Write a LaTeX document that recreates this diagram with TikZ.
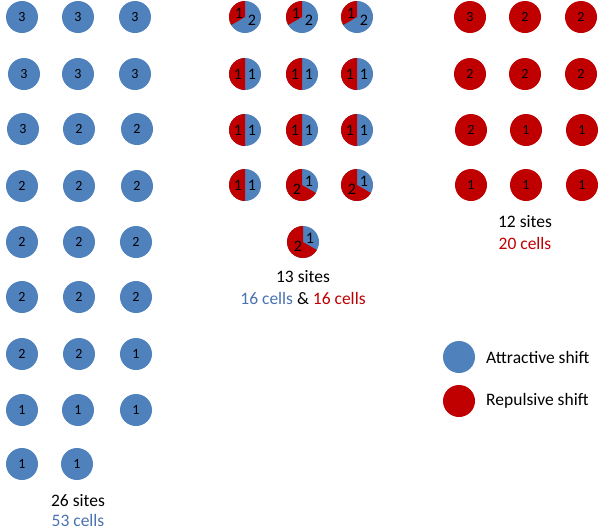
\documentclass[tikz,border=0pt]{standalone}
\usepackage{fontspec}
\setmainfont{Carlito}
\usepackage{xcolor}
\definecolor{attBlue}{HTML}{4F81BD}
\definecolor{repRed}{HTML}{C00000}
\definecolor{cellBlue}{HTML}{4A72B2}
\usepackage{tikz}

\begin{document}
\begin{tikzpicture}[
    x=1pt, y=1pt,
    site/.style={circle, minimum size=32pt, inner sep=0pt, font=\fontsize{14}{14}\selectfont},
    att/.style={site, fill=attBlue},
    rep/.style={site, fill=repRed},
    num/.style={inner sep=0pt, font=\fontsize{16}{16}\selectfont},
    caption/.style={inner sep=0pt, font=\fontsize{17.5}{17.5}\selectfont},
    legend/.style={inner sep=0pt, anchor=west, font=\fontsize{17.5}{17.5}\selectfont},
]
\useasboundingbox (0,0) rectangle (600,-531);

% Attractive sites
\node[att] (A1) at (22,-17) {3};
\node[att] (A2) at (78,-17) {3};
\node[att] (A3) at (135,-17) {3};
\node[att] (A4) at (24,-74) {3};
\node[att] (A5) at (78,-74) {3};
\node[att] (A6) at (135,-74) {3};
\node[att] (A7) at (23,-129) {3};
\node[att] (A8) at (79,-129) {2};
\node[att] (A9) at (137,-129) {2};
\node[att] (A10) at (22,-186) {2};
\node[att] (A11) at (79,-186) {2};
\node[att] (A12) at (137,-186) {2};
\node[att] (A13) at (22,-242) {2};
\node[att] (A14) at (79,-242) {2};
\node[att] (A15) at (136,-242) {2};
\node[att] (A16) at (22,-297) {2};
\node[att] (A17) at (79,-297) {2};
\node[att] (A18) at (136,-297) {2};
\node[att] (A19) at (22,-354) {2};
\node[att] (A20) at (79,-354) {2};
\node[att] (A21) at (136,-354) {1};
\node[att] (A22) at (22,-410) {1};
\node[att] (A23) at (78,-410) {1};
\node[att] (A24) at (136,-410) {1};
\node[att] (A25) at (22,-464) {1};
\node[att] (A26) at (77,-464) {1};
\node[caption] (Asites) at (78,-501) {26 sites};
\node[caption, text=cellBlue] (Acells) at (78,-520) {53 cells};

% Mixed sites
\node[att] (P1) at (245,-17) {};
\node[att] (P2) at (302,-17) {};
\node[att] (P3) at (357,-17) {};
\node[att] (P4) at (245,-74) {};
\node[att] (P5) at (302,-74) {};
\node[att] (P6) at (357,-74) {};
\node[att] (P7) at (245,-130) {};
\node[att] (P8) at (302,-130) {};
\node[att] (P9) at (357,-130) {};
\node[att] (P10) at (245,-185) {};
\node[att] (P11) at (302,-185) {};
\node[att] (P12) at (357,-185) {};
\node[att] (P13) at (303,-242) {};

\fill[repRed] (P1.center) -- ++(90:16) arc[start angle=90, end angle=210, radius=16] -- cycle;
\fill[repRed] (P2.center) -- ++(90:16) arc[start angle=90, end angle=210, radius=16] -- cycle;
\fill[repRed] (P3.center) -- ++(90:16) arc[start angle=90, end angle=210, radius=16] -- cycle;
\fill[repRed] (P4.center) -- ++(90:16) arc[start angle=90, end angle=270, radius=16] -- cycle;
\fill[repRed] (P5.center) -- ++(90:16) arc[start angle=90, end angle=270, radius=16] -- cycle;
\fill[repRed] (P6.center) -- ++(90:16) arc[start angle=90, end angle=270, radius=16] -- cycle;
\fill[repRed] (P7.center) -- ++(90:16) arc[start angle=90, end angle=270, radius=16] -- cycle;
\fill[repRed] (P8.center) -- ++(90:16) arc[start angle=90, end angle=270, radius=16] -- cycle;
\fill[repRed] (P9.center) -- ++(90:16) arc[start angle=90, end angle=270, radius=16] -- cycle;
\fill[repRed] (P10.center) -- ++(90:16) arc[start angle=90, end angle=270, radius=16] -- cycle;
\fill[repRed] (P11.center) -- ++(90:16) arc[start angle=90, end angle=330, radius=16] -- cycle;
\fill[repRed] (P12.center) -- ++(90:16) arc[start angle=90, end angle=330, radius=16] -- cycle;
\fill[repRed] (P13.center) -- ++(90:16) arc[start angle=90, end angle=330, radius=16] -- cycle;

\node[num] (P1r) at ([shift={(-6,4)}]P1.center) {1};
\node[num] (P1b) at ([shift={(7,-3)}]P1.center) {2};
\node[num] (P2r) at ([shift={(-6,4)}]P2.center) {1};
\node[num] (P2b) at ([shift={(7,-3)}]P2.center) {2};
\node[num] (P3r) at ([shift={(-6,4)}]P3.center) {1};
\node[num] (P3b) at ([shift={(7,-3)}]P3.center) {2};
\node[num] (P4r) at ([shift={(-7,0)}]P4.center) {1};
\node[num] (P4b) at ([shift={(7,0)}]P4.center) {1};
\node[num] (P5r) at ([shift={(-7,0)}]P5.center) {1};
\node[num] (P5b) at ([shift={(7,0)}]P5.center) {1};
\node[num] (P6r) at ([shift={(-7,0)}]P6.center) {1};
\node[num] (P6b) at ([shift={(7,0)}]P6.center) {1};
\node[num] (P7r) at ([shift={(-7,0)}]P7.center) {1};
\node[num] (P7b) at ([shift={(7,0)}]P7.center) {1};
\node[num] (P8r) at ([shift={(-7,0)}]P8.center) {1};
\node[num] (P8b) at ([shift={(7,0)}]P8.center) {1};
\node[num] (P9r) at ([shift={(-7,0)}]P9.center) {1};
\node[num] (P9b) at ([shift={(7,0)}]P9.center) {1};
\node[num] (P10r) at ([shift={(-7,0)}]P10.center) {1};
\node[num] (P10b) at ([shift={(7,0)}]P10.center) {1};
\node[num] (P11r) at ([shift={(-5,-4)}]P11.center) {2};
\node[num] (P11b) at ([shift={(7,4)}]P11.center) {1};
\node[num] (P12r) at ([shift={(-5,-4)}]P12.center) {2};
\node[num] (P12b) at ([shift={(7,4)}]P12.center) {1};
\node[num] (P13r) at ([shift={(-5,-4)}]P13.center) {2};
\node[num] (P13b) at ([shift={(7,4)}]P13.center) {1};
\node[caption] (Psites) at (303,-277) {13 sites};
\node[caption] (Pcells) at (303,-298) {\textcolor{cellBlue}{16 cells} \& \textcolor{repRed}{16 cells}};

% Repulsive sites
\node[rep] (R1) at (470,-17) {3};
\node[rep] (R2) at (525,-17) {2};
\node[rep] (R3) at (581,-17) {2};
\node[rep] (R4) at (470,-74) {2};
\node[rep] (R5) at (525,-74) {2};
\node[rep] (R6) at (581,-74) {2};
\node[rep] (R7) at (471,-130) {2};
\node[rep] (R8) at (526,-130) {1};
\node[rep] (R9) at (582,-130) {1};
\node[rep] (R10) at (471,-185) {1};
\node[rep] (R11) at (526,-185) {1};
\node[rep] (R12) at (582,-185) {1};
\node[caption] (Rsites) at (525,-222) {12 sites};
\node[caption, text=repRed] (Rcells) at (525,-243) {20 cells};

% Legend
\node[att] (Latt) at (459,-357) {};
\node[rep] (Lrep) at (459,-401) {};
\node[legend] (LattT) at (486,-357) {Attractive shift};
\node[legend] (LrepT) at (486,-401) {Repulsive shift};

\end{tikzpicture}
\end{document}
